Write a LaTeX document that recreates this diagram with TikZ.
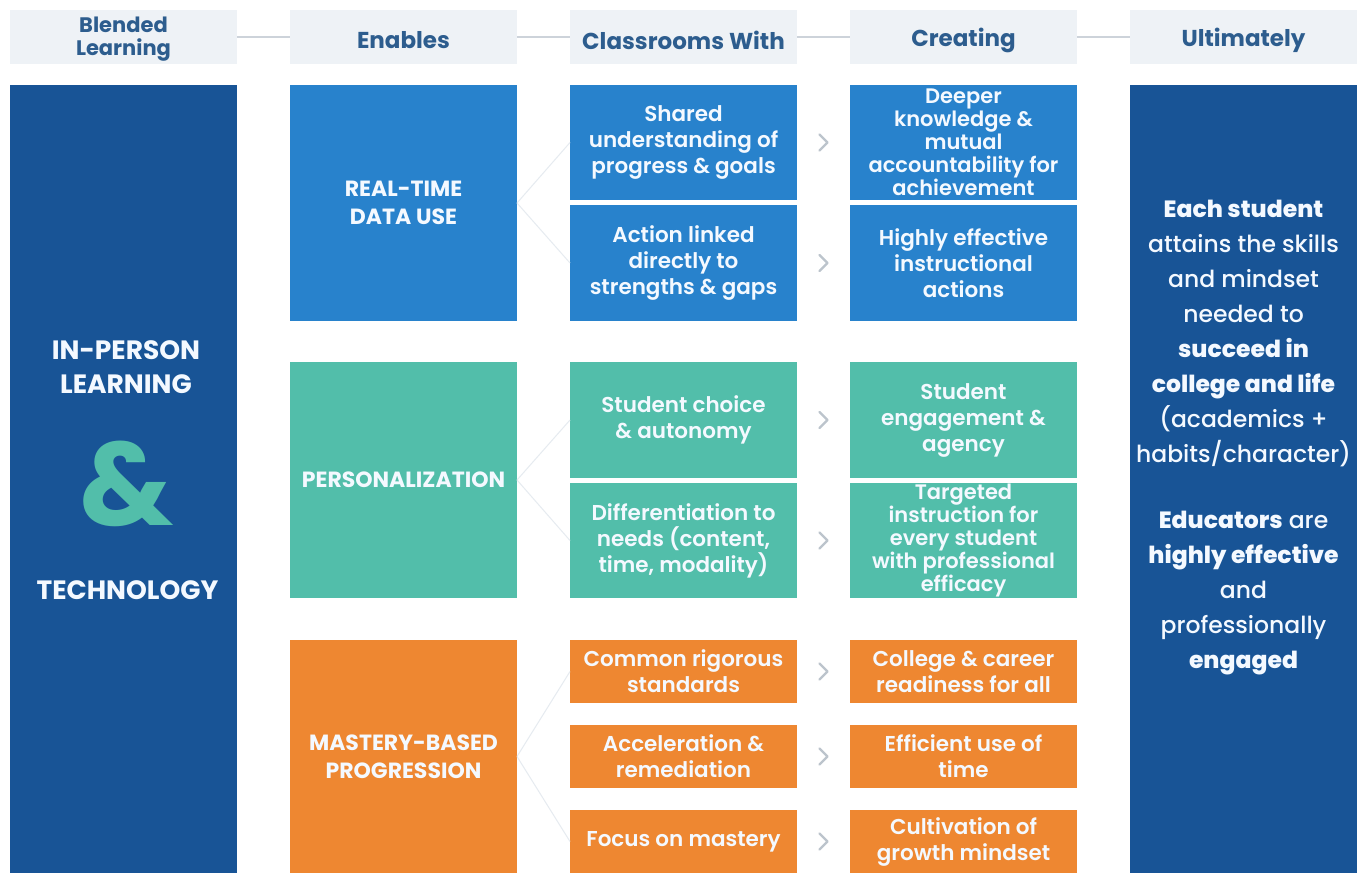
\documentclass[tikz,border=0pt]{standalone}
\usepackage{fontspec}
\setmainfont{Poppins}[UprightFont=* SemiBold, BoldFont=* Bold]
\newfontfamily\ultfont{Poppins}[UprightFont=* Medium, BoldFont=* ExtraBold]
\usetikzlibrary{calc}
\definecolor{hdrfill}{HTML}{EEF2F6}
\definecolor{hdrtext}{HTML}{2D5D8E}
\definecolor{hdrline}{HTML}{CDD3DA}
\definecolor{darkblue}{HTML}{185496}
\definecolor{midblue}{HTML}{2882CC}
\definecolor{tealc}{HTML}{52BEAA}
\definecolor{orangec}{HTML}{EE8731}
\definecolor{chevc}{HTML}{BCC4CC}
\definecolor{faintc}{HTML}{E6EBF0}
\definecolor{boxtext}{HTML}{F4F9FF}
\tikzset{
  every node/.style={outer sep=0pt, inner sep=0pt},
  hdr/.style={fill=hdrfill, minimum width=227pt, minimum height=54pt, anchor=north west},
  hdrlabel/.style={text=hdrtext, align=center, font=\bfseries\fontsize{23}{23}\selectfont},
  hline/.style={draw=hdrline, line width=2pt},
  tile/.style={minimum width=227pt, anchor=north west, text=boxtext, align=center},
  ctext/.style={font=\fontsize{21.5}{26}\selectfont},
  ktext/.style={font=\fontsize{21}{23}\selectfont},
  etext/.style={font=\bfseries\fontsize{22}{28}\selectfont},
  chevst/.style={draw=chevc, line width=2.2pt, line cap=round, line join=round},
  faint/.style={draw=faintc, line width=1pt},
}
\begin{document}
\begin{tikzpicture}[x=1pt,y=-1pt]
\useasboundingbox[fill=white] (0,0) rectangle (1364,873);
% headers
\node[hdr] (h1) at (10,10) {};
\node[hdr] (h2) at (290,10) {};
\node[hdr] (h3) at (570,10) {};
\node[hdr] (h4) at (850,10) {};
\node[hdr] (h5) at (1130,10) {};
\node[hdrlabel, font=\bfseries\fontsize{21}{23}\selectfont] (t1) at ($(h1.center)+(0,2)$) {Blended\\Learning};
\node[hdrlabel] (t2) at ($(h2.center)+(0,3)$) {Enables};
\node[hdrlabel] (t3) at ($(h3.center)+(0,3)$) {Classrooms With};
\node[hdrlabel] (t4) at ($(h4.center)+(0,3)$) {Creating};
\node[hdrlabel] (t5) at ($(h5.center)+(0,3)$) {Ultimately};
\draw[hline] (h1.east) -- (h2.west);
\draw[hline] (h2.east) -- (h3.west);
\draw[hline] (h3.east) -- (h4.west);
\draw[hline] (h4.east) -- (h5.west);
% left column
\node[tile, fill=darkblue, minimum height=788pt] (left) at (10,85) {};
\node[text=boxtext, align=center, font=\bfseries\fontsize{26.5}{34}\selectfont] (lt1) at (126,367) {IN-PERSON\\LEARNING};
\node[text=tealc, font=\bfseries\fontsize{118}{118}\selectfont] (amp) at (127,484) {\&};
\node[text=boxtext, font=\bfseries\fontsize{26.5}{34}\selectfont] (lt2) at (127.5,590) {TECHNOLOGY};
% right column
\node[tile, fill=darkblue, minimum height=788pt] (right) at (1130,85) {};
\node[text=boxtext, align=center, font=\ultfont\fontsize{23.5}{35}\selectfont] (rt) at (1243.5,438)
 {\textbf{Each student}\\attains the skills\\and mindset\\needed to\\\textbf{succeed in}\\\textbf{college and life}\\(academics +\\habits/character)\\[31pt]\textbf{Educators} are\\\textbf{highly effective}\\and\\professionally\\\textbf{engaged}};
% enables
\node[tile, fill=midblue, minimum height=236pt, etext] (e1) at (290,85) {REAL-TIME\\DATA USE};
\node[tile, fill=tealc, minimum height=236pt, etext] (e2) at (290,362) {PERSONALIZATION};
\node[tile, fill=orangec, minimum height=233pt, etext] (e3) at (290,640) {MASTERY-BASED\\PROGRESSION};
% classrooms with
\node[tile, fill=midblue, minimum height=115pt, ctext] (c1) at (570,85) {Shared\\understanding of\\progress \& goals};
\node[tile, fill=midblue, minimum height=116pt, ctext] (c2) at (570,205) {Action linked\\directly to\\strengths \& gaps};
\node[tile, fill=tealc, minimum height=116pt, ctext] (c3) at (570,362) {Student choice\\\& autonomy};
\node[tile, fill=tealc, minimum height=115pt, ctext] (c4) at (570,483) {Differentiation to\\needs (content,\\time, modality)};
\node[tile, fill=orangec, minimum height=63pt, ctext] (c5) at (570,640) {Common rigorous\\standards};
\node[tile, fill=orangec, minimum height=63pt, ctext] (c6) at (570,725) {Acceleration \&\\remediation};
\node[tile, fill=orangec, minimum height=63pt, ctext] (c7) at (570,810) {Focus on mastery};
% creating
\node[tile, fill=midblue, minimum height=115pt, ktext] (k1) at (850,85) {Deeper\\knowledge \&\\mutual\\accountability for\\achievement};
\node[tile, fill=midblue, minimum height=116pt, ctext] (k2) at (850,205) {Highly effective\\instructional\\actions};
\node[tile, fill=tealc, minimum height=116pt, ctext] (k3) at (850,362) {Student\\engagement \&\\agency};
\node[tile, fill=tealc, minimum height=115pt, ktext] (k4) at (850,483) {Targeted\\instruction for\\every student\\with professional\\efficacy};
\node[tile, fill=orangec, minimum height=63pt, ctext] (k5) at (850,640) {College \& career\\readiness for all};
\node[tile, fill=orangec, minimum height=63pt, ctext] (k6) at (850,725) {Efficient use of\\time};
\node[tile, fill=orangec, minimum height=63pt, ctext] (k7) at (850,810) {Cultivation of\\growth mindset};
% faint connectors
\draw[faint] (e1.east) -- (c1.west);
\draw[faint] (e1.east) -- (c2.west);
\draw[faint] (e2.east) -- (c3.west);
\draw[faint] (e2.east) -- (c4.west);
\draw[faint] (e3.east) -- (c5.west);
\draw[faint] (e3.east) -- (c7.west);
% chevrons
\foreach \a/\b in {c1/k1,c2/k2,c3/k3,c4/k4,c5/k5,c6/k6,c7/k7}{
  \coordinate (m\a) at ($(\a.east)!0.5!(\b.west)$);
  \draw[chevst] ($(m\a)+(-4,-8)$) -- ++(8,8) -- ++(-8,8);
}
\end{tikzpicture}
\end{document}
